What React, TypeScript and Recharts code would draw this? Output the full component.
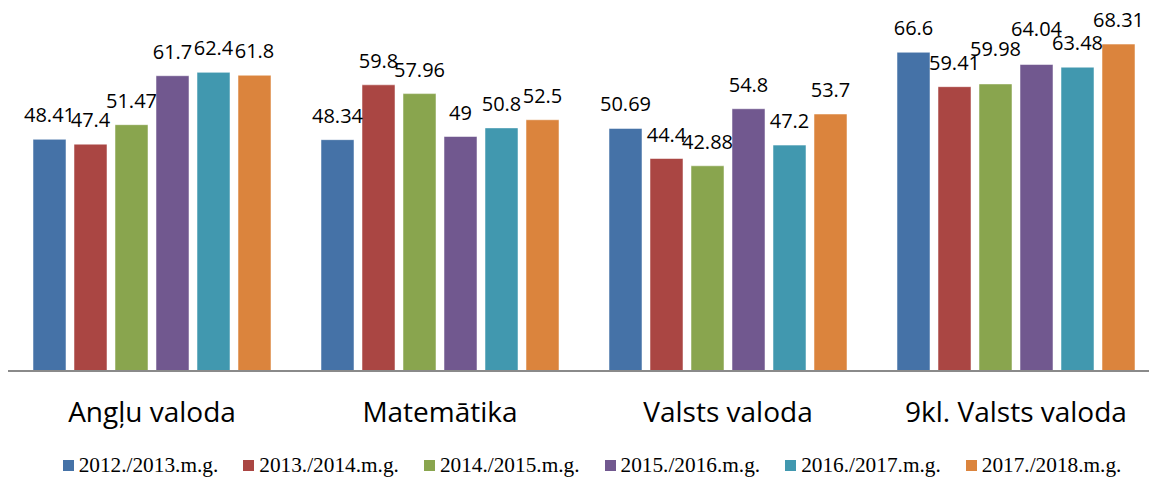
import React from 'react';
import { BarChart, Bar, XAxis, YAxis, LabelList } from 'recharts';

const categories = ['Angļu valoda', 'Matemātika', 'Valsts valoda', '9kl. Valsts valoda'];

const years = [
  '2012./2013.m.g.',
  '2013./2014.m.g.',
  '2014./2015.m.g.',
  '2015./2016.m.g.',
  '2016./2017.m.g.',
  '2017./2018.m.g.',
];

const y2012 = [48.41, 48.34, 50.69, 66.6];
const y2013 = [47.4, 59.8, 44.4, 59.41];
const y2014 = [51.47, 57.96, 42.88, 59.98];
const y2015 = [61.7, 49, 54.8, 64.04];
const y2016 = [62.4, 50.8, 47.2, 63.48];
const y2017 = [61.8, 52.5, 53.7, 68.31];

const seriesValues = [y2012, y2013, y2014, y2015, y2016, y2017];
const colors = ['#4572A7', '#AA4643', '#89A54E', '#71588F', '#4198AF', '#DB843D'];

// a few labels sit higher so they do not collide (series index -> category index -> px)
const labelLift: Record<string, number> = { '2-3': 11, '3-3': 12 };

const data = categories.map((name, i) => {
  const row: Record<string, string | number> = { name };
  seriesValues.forEach((vals, s) => {
    row[`s${s}`] = vals[i];
  });
  return row;
});

const sans = '"Open Sans", "Noto Sans", sans-serif';
const serif = '"Liberation Serif", "Times New Roman", serif';

const makeLabel = (s: number) => (props: any) => {
  const { x, y, width, value, index } = props;
  const lift = labelLift[`${s}-${index}`] || 0;
  return (
    <text
      x={x + width / 2}
      y={y - 17 - lift}
      textAnchor="middle"
      fill="#000"
      fontSize={20}
      fontFamily={sans}
    >
      {value}
    </text>
  );
};

const Legend6: React.FC = () => (
  <div
    style={{
      position: 'absolute',
      top: 453,
      left: 12,
      width: 1160,
      display: 'flex',
      justifyContent: 'center',
      gap: 25,
      fontFamily: serif,
      fontSize: 21.3,
      lineHeight: '24px',
      color: '#000',
    }}
  >
    {years.map((y, i) => (
      <div key={y} style={{ display: 'flex', alignItems: 'center' }}>
        <span
          style={{
            display: 'inline-block',
            width: 11,
            height: 11,
            background: colors[i],
            marginRight: 5,
          }}
        />
        <span>{y}</span>
      </div>
    ))}
  </div>
);

export default function App() {
  return (
    <div
      style={{
        position: 'absolute',
        top: 0,
        left: 0,
        width: 1149,
        height: 478,
        overflow: 'hidden',
        background: '#fff',
      }}
    >
      <BarChart
        width={1160}
        height={445}
        data={data}
        margin={{ top: 36, right: 0, left: 8, bottom: 0 }}
        barCategoryGap={25}
        barGap={8}
      >
        <XAxis
          dataKey="name"
          height={74}
          axisLine={{ stroke: '#8a8a8a', strokeWidth: 2 }}
          tickLine={false}
          tickMargin={25}
          interval={0}
          tick={{ fill: '#000', fontSize: 28, fontFamily: sans }}
        />
        <YAxis hide domain={[0, 70]} />
        {years.map((y, i) => (
          <Bar
            key={y}
            dataKey={`s${i}`}
            name={y}
            fill={colors[i]}
            stroke="rgba(255,255,255,0.5)"
            strokeWidth={1}
            isAnimationActive={false}
          >
            <LabelList dataKey={`s${i}`} content={makeLabel(i)} />
          </Bar>
        ))}
      </BarChart>
      <Legend6 />
    </div>
  );
}
